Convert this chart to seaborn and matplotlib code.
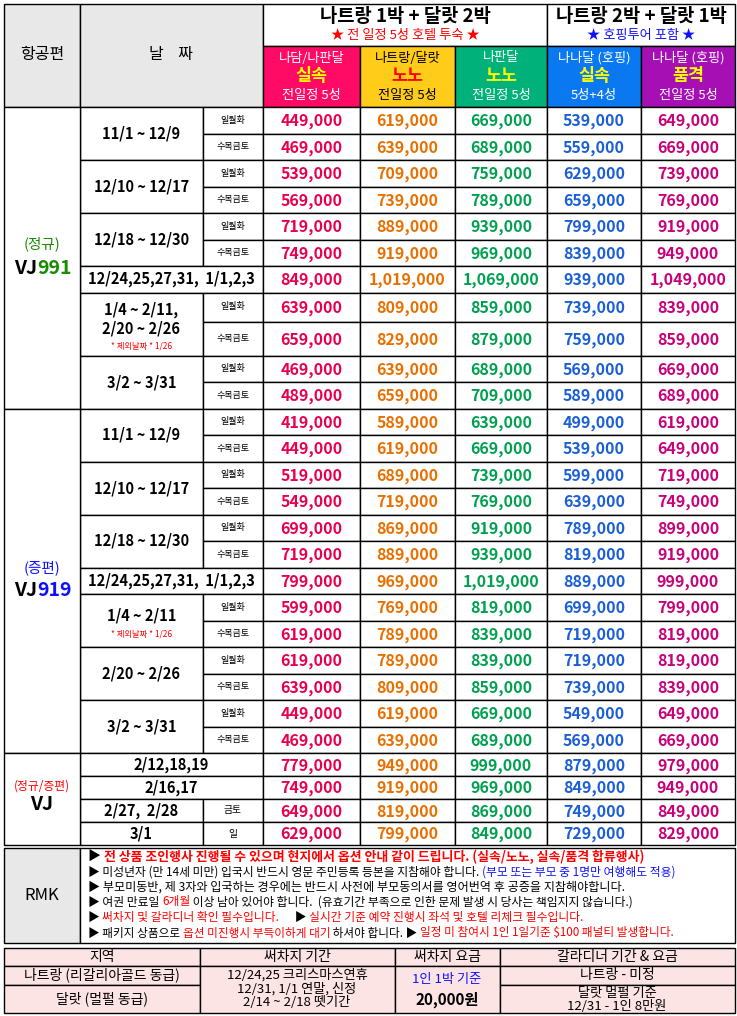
import matplotlib
matplotlib.use("Agg")
import matplotlib.pyplot as plt
import seaborn as sns
from matplotlib.patches import Rectangle

sns.set_theme(style="white")
plt.rcParams['font.family'] = ['Noto Sans CJK KR', 'DejaVu Sans']

# ---------------- data ----------------
hotel_names = ["나담/나판달", "나트랑/달랏", "나판달", "나나달 (호핑)", "나나달 (호핑)"]
hotel_types = ["실속", "노노", "노노", "실속", "품격"]
hotel_stars = ["전일정 5성", "전일정 5성", "전일정 5성", "5성+4성", "전일정 5성"]

s1_dates = ["11/1 ~ 12/9", "12/10 ~ 12/17", "12/18 ~ 12/30", "12/24,25,27,31,  1/1,2,3", "1/4 ~ 2/11,\n2/20 ~ 2/26", "3/2 ~ 3/31"]
s1_prices = [
    [449000, 619000, 669000, 539000, 649000],
    [469000, 639000, 689000, 559000, 669000],
    [539000, 709000, 759000, 629000, 739000],
    [569000, 739000, 789000, 659000, 769000],
    [719000, 889000, 939000, 799000, 919000],
    [749000, 919000, 969000, 839000, 949000],
    [849000, 1019000, 1069000, 939000, 1049000],
    [639000, 809000, 859000, 739000, 839000],
    [659000, 829000, 879000, 759000, 859000],
    [469000, 639000, 689000, 569000, 669000],
    [489000, 659000, 709000, 589000, 689000],
]
s2_dates = ["11/1 ~ 12/9", "12/10 ~ 12/17", "12/18 ~ 12/30", "12/24,25,27,31,  1/1,2,3", "1/4 ~ 2/11", "2/20 ~ 2/26", "3/2 ~ 3/31"]
s2_prices = [
    [419000, 589000, 639000, 499000, 619000],
    [449000, 619000, 669000, 539000, 649000],
    [519000, 689000, 739000, 599000, 719000],
    [549000, 719000, 769000, 639000, 749000],
    [699000, 869000, 919000, 789000, 899000],
    [719000, 889000, 939000, 819000, 919000],
    [799000, 969000, 1019000, 889000, 999000],
    [599000, 769000, 819000, 699000, 799000],
    [619000, 789000, 839000, 719000, 819000],
    [619000, 789000, 839000, 719000, 819000],
    [639000, 809000, 859000, 739000, 839000],
    [449000, 619000, 669000, 549000, 649000],
    [469000, 639000, 689000, 569000, 669000],
]
s3_dates = ["2/12,18,19", "2/16,17", "2/27,  2/28", "3/1"]
s3_days = ["", "", "금토", "일"]
s3_prices = [
    [779000, 949000, 999000, 879000, 979000],
    [749000, 919000, 969000, 849000, 949000],
    [649000, 819000, 869000, 749000, 849000],
    [629000, 799000, 849000, 729000, 829000],
]

head_colors = ["#ff0a64", "#ffcc1a", "#00b27a", "#0a78f0", "#a50fb4"]
type_colors = ["#ffff00", "#ff0000", "#ffff00", "#ffff00", "#ffff00"]
name_colors = ["white", "black", "white", "white", "white"]
price_colors = ["#e8004f", "#e87000", "#00a050", "#1a5ed8", "#c8007a"]

# ---------------- layout ----------------
W, H = 737, 1016
fig = plt.figure(figsize=(W / 100, H / 100), dpi=100)
ax = fig.add_axes([0, 0, 1, 1])
ax.set_xlim(0, W)
ax.set_ylim(H, 0)
ax.axis("off")

X = [4, 80, 203, 263, 360, 455, 547, 641, 735]
LW = 1.0


def box(x0, y0, x1, y1, fc="white", lw=LW):
    ax.add_patch(Rectangle((x0, y0), x1 - x0, y1 - y0, fc=fc, ec="black", lw=lw))


def txt(x, y, s, size=11, color="black", weight="bold", ha="center"):
    ax.text(x, y, s, fontsize=size, color=color, fontweight=weight, ha=ha, va="center",
            linespacing=1.2)


fig.canvas.draw()
renderer = fig.canvas.get_renderer()


def segs(x, y, parts, size=8.5, weight="bold"):
    for s, c in parts:
        t = ax.text(x, y, s, fontsize=size, color=c, fontweight=weight, ha="left", va="center")
        bb = t.get_window_extent(renderer)
        x += bb.width * (W / fig.bbox.width)


# header
box(X[0], 4, X[1], 107, "#e8e8e8")
box(X[1], 4, X[3], 107, "#e8e8e8")
txt(42, 55, "항공편", 11.5, weight="normal")
txt(171, 55, "날    짜", 11.5, weight="normal")
box(X[3], 4, X[6], 46)
box(X[6], 4, X[8], 46)
txt((X[3] + X[6]) / 2, 16, "나트랑 1박 + 달랏 2박", 13.5)
txt((X[3] + X[6]) / 2, 35, "★ 전 일정 5성 호텔 투숙 ★", 9.5, "#ff0000", "normal")
txt((X[6] + X[8]) / 2, 16, "나트랑 2박 + 달랏 1박", 13.5)
txt((X[6] + X[8]) / 2, 35, "★ 호핑투어 포함 ★", 9.5, "#1010ff", "normal")
for i in range(5):
    x0, x1 = X[3 + i], X[4 + i]
    box(x0, 46, x1, 107, head_colors[i])
    cx = (x0 + x1) / 2
    txt(cx, 58, hotel_names[i], 9.5, name_colors[i], "normal")
    txt(cx, 76, hotel_types[i], 12.5, type_colors[i], "bold")
    txt(cx, 96, hotel_stars[i], 9.5, name_colors[i], "normal")


def price_row(y0, y1, vals):
    for i, v in enumerate(vals):
        box(X[3 + i], y0, X[4 + i], y1)
        txt((X[3 + i] + X[4 + i]) / 2, (y0 + y1) / 2 + 1, f"{v:,}", 11.5, price_colors[i])


def section(ytop, dates, prices, heights, groups, notes):
    ys = [ytop]
    for h in heights:
        ys.append(ys[-1] + h)
    r = 0
    for gi, g in enumerate(groups):
        y0 = ys[r]
        if g == 2:
            y1 = ys[r + 2]
            box(X[1], y0, X[2], y1)
            ym = (y0 + y1) / 2
            if notes.get(gi):
                txt((X[1] + X[2]) / 2, ym - 5, dates[gi], 10.5)
                txt((X[1] + X[2]) / 2, ym + (22 if "\n" in dates[gi] else 14), notes[gi], 6, "#ff0000", "normal")
            else:
                txt((X[1] + X[2]) / 2, ym, dates[gi], 10.5)
            for k, d in enumerate(["일월화", "수목금토"]):
                box(X[2], ys[r + k], X[3], ys[r + k + 1])
                txt((X[2] + X[3]) / 2, (ys[r + k] + ys[r + k + 1]) / 2, d, 6.5, weight="normal")
                price_row(ys[r + k], ys[r + k + 1], prices[r + k])
            r += 2
        else:
            y1 = ys[r + 1]
            box(X[1], y0, X[3], y1)
            txt((X[1] + X[3]) / 2, (y0 + y1) / 2, dates[gi], 10.5)
            price_row(y0, y1, prices[r])
            r += 1
    return ys[-1]


h1 = [26.5] * 7 + [29, 34, 26.5, 26.5]
end1 = section(107, s1_dates, s1_prices, h1, [2, 2, 2, 1, 2, 2], {4: "* 제외날짜 * 1/26"})
box(X[0], 107, X[1], end1)
txt(42, 244, "(정규)", 10.5, "#1a8a00", "normal")
segs(14, 268, [("VJ", "black"), ("991", "#1a8a00")], 14)

end2 = section(end1, s2_dates, s2_prices, [26.5] * 13, [2, 2, 2, 1, 2, 2, 2], {4: "* 제외날짜 * 1/26"})
box(X[0], end1, X[1], end2)
txt(42, 568, "(증편)", 10.5, "#1010ff", "normal")
segs(14, 591, [("VJ", "black"), ("919", "#1010ff")], 14)

# section 3
y = end2
for k in range(4):
    y1 = y + 23
    if s3_days[k]:
        box(X[1], y, X[2], y1)
        txt((X[1] + X[2]) / 2, (y + y1) / 2, s3_dates[k], 10.5)
        box(X[2], y, X[3], y1)
        txt((X[2] + X[3]) / 2, (y + y1) / 2, s3_days[k], 7, weight="normal")
    else:
        box(X[1], y, X[3], y1)
        txt((X[1] + X[3]) / 2, (y + y1) / 2, s3_dates[k], 10.5)
    price_row(y, y1, s3_prices[k])
    y = y1
box(X[0], end2, X[1], y)
txt(42, 786, "(정규/증편)", 8.5, "#ff0000", "normal")
txt(42, 805, "VJ", 14)

# RMK
box(X[0], 848, X[1], 943, "#e8e8e8")
box(X[1], 848, X[8], 943)
txt(42, 895, "RMK", 12, weight="normal")
R, B, K = "#ff0000", "#1010ff", "black"
rx = 88
segs(rx, 857, [("▶ ", K), ("전 상품 조인행사 진행될 수 있으며 현지에서 옵션 안내 같이 드립니다. (실속/노노, 실속/품격 합류행사)", R)], 9.3)
segs(rx, 872, [("▶ 미성년자 (만 14세 미만) 입국시 반드시 영문 주민등록 등본을 지참해야 합니다. ", K), ("(부모 또는 부모 중 1명만 여행해도 적용)", B)], 8.5, "normal")
segs(rx, 887, [("▶ 부모미동반, 제 3자와 입국하는 경우에는 반드시 사전에 부모동의서를 영어번역 후 공증을 지참해야합니다.", K)], 8.7, "normal")
segs(rx, 902, [("▶ 여권 만료일 ", K), ("6개월", R), (" 이상 남아 있어야 합니다.  (유효기간 부족으로 인한 문제 발생 시 당사는 책임지지 않습니다.)", K)], 8.5, "normal")
segs(rx, 917, [("▶ ", K), ("써차지 및 갈라디너 확인 필수입니다.", R), ("      ▶ ", K), ("실시간 기준 예약 진행시 좌석 및 호텔 리체크 필수입니다.", R)], 8.5, "normal")
segs(rx, 933, [("▶ 패키지 상품으로 ", K), ("옵션 미진행시 부득이하게 대기", R), (" 하셔야 합니다. ▶ ", K), ("일정 미 참여시 1인 1일기준 $100 패널티 발생합니다.", R)], 8.4, "normal")

# bottom table
P = "#fde4e4"
BX = [4, 200, 395, 500, 735]
box(BX[0], 948, BX[1], 966, P); txt(102, 957, "지역", 10, weight="normal")
box(BX[1], 948, BX[2], 966, P); txt(297, 957, "써차지 기간", 10, weight="normal")
box(BX[2], 948, BX[3], 966, P); txt(447, 957, "써차지 요금", 10, weight="normal")
box(BX[3], 948, BX[4], 966, P); txt(617, 957, "갈라디너 기간 & 요금", 10, weight="normal")
box(BX[0], 966, BX[1], 985, P); txt(102, 975, "나트랑 (리갈리아골드 동급)", 10, weight="normal")
box(BX[0], 985, BX[1], 1013, P); txt(102, 999, "달랏 (멀펄 동급)", 10, weight="normal")
box(BX[1], 966, BX[2], 1013, P)
txt(297, 975, "12/24,25 크리스마스연휴", 9.5, weight="normal")
txt(297, 989, "12/31, 1/1 연말, 신정", 9.5, weight="normal")
txt(297, 1002, "2/14 ~ 2/18 뗏기간", 9.5, weight="normal")
box(BX[2], 966, BX[3], 1013, P)
txt(447, 980, "1인 1박 기준", 9.5, "#1010ff", "normal")
txt(447, 1000, "20,000원", 11)
box(BX[3], 966, BX[4], 985, P); txt(617, 975, "나트랑 - 미정", 10, weight="normal")
box(BX[3], 985, BX[4], 1013, P)
txt(617, 993, "달랏 멀펄 기준", 9.5, weight="normal")
txt(617, 1006, "12/31 - 1인 8만원", 9.5, weight="normal")

fig.savefig("out.png", dpi=100)
